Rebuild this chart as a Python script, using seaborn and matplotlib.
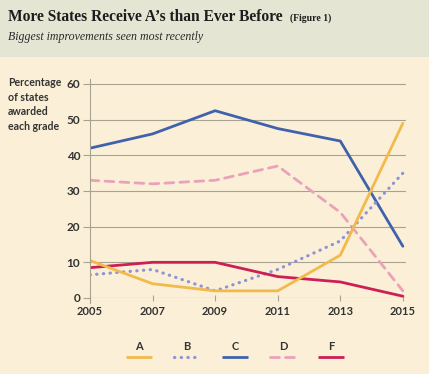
import matplotlib
matplotlib.use("Agg")
import matplotlib.pyplot as plt
import seaborn as sns
import pandas as pd
import numpy as np

years = [2005, 2007, 2009, 2011, 2013, 2015]
grade_a = [10.5, 4, 2, 2, 12, 49]
grade_b = [6.5, 8, 2, 8, 16, 35]
grade_c = [42, 46, 52.5, 47.5, 44, 14.5]
grade_d = [33, 32, 33, 37, 24, 2]
grade_f = [8.5, 10, 10, 6, 4.5, 0.5]
grades = ["A", "B", "C", "D", "F"]
y_ticks = [0, 10, 20, 30, 40, 50, 60]

colors = {"A": "#f2b94c", "B": "#8e94d2", "C": "#4062ac", "D": "#eaa2ba", "F": "#cc1f55"}
styles = {"A": "-", "B": (0, (0.1, 2.0)), "C": "-", "D": (0, (3.2, 2.2)), "F": "-"}
widths = {"A": 2.0, "B": 2.3, "C": 2.0, "D": 2.0, "F": 2.0}

df = pd.DataFrame({"year": years, "A": grade_a, "B": grade_b, "C": grade_c,
                   "D": grade_d, "F": grade_f})
long = df.melt(id_vars="year", var_name="grade", value_name="pct")

sns.set_style("white")
plt.rcParams["font.family"] = ["Lato", "DejaVu Sans"]

fig = plt.figure(figsize=(4.29, 3.74), dpi=100)
fig.patch.set_facecolor("#fbf0d7")

# header band
hdr = fig.add_axes([0, 1 - 57 / 374, 1, 57 / 374])
hdr.set_facecolor("#e5e5d4")
hdr.set_xticks([])
hdr.set_yticks([])
for s in hdr.spines.values():
    s.set_visible(False)

fig.text(8 / 429, 1 - 21 / 374, "More States Receive A\u2019s than Ever Before",
         family="Liberation Serif", weight="bold", size=11.2, color="#1c1c1c", va="baseline")
fig.text(290 / 429, 1 - 21 / 374, "(Figure 1)", family="Liberation Serif", weight="bold",
         size=7, color="#1c1c1c", va="baseline")
fig.text(8 / 429, 1 - 40 / 374, "Biggest improvements seen most recently",
         family="Liberation Serif", style="italic", size=8.6, color="#2a2a2a", va="baseline")

ax = fig.add_axes([90 / 429, 76 / 374, 316 / 429, 0.5866])
ax.patch.set_alpha(0)
order = ["C", "D", "B", "F", "A"]
for g in order:
    sub = long[long["grade"] == g]
    sns.lineplot(data=sub, x="year", y="pct", ax=ax, color=colors[g], linestyle=styles[g],
                 linewidth=widths[g], solid_capstyle="round", dash_capstyle="round",
                 legend=False)

ax.set_xlim(2005, 2015.1)
ax.set_ylim(0, 61.5)
ax.set_yticks(y_ticks)
ax.set_xticks(years)
ax.set_xlabel("")
ax.set_ylabel("")
for y in y_ticks:
    ax.axhline(y, color="#a8a290", linewidth=0.8, zorder=0)
for s in ["top", "right", "bottom"]:
    ax.spines[s].set_visible(False)
ax.spines["left"].set_color("#a8a290")
ax.spines["left"].set_linewidth(0.8)
ax.spines["left"].set_bounds(-1.5, 61.5)
ax.spines["left"].set_clip_on(False)
ax.tick_params(axis="y", length=5, width=0.8, color="#a8a290", pad=2, labelsize=8.5,
               labelcolor="#333333", left=True)
ax.tick_params(axis="x", length=5, width=0.8, color="#a8a290", pad=3, labelsize=8,
               labelcolor="#333333", bottom=True, direction="inout")
for lab in ax.get_xticklabels() + ax.get_yticklabels():
    lab.set_fontweight("bold")

fig.text(8 / 429, 1 - 77 / 374, "Percentage\nof states\nawarded\neach grade",
         size=7.6, weight="bold", color="#333333", va="top", linespacing=1.4)

# legend key
lg = fig.add_axes([115 / 429, 10 / 374, 240 / 429, 30 / 374])
lg.patch.set_alpha(0)
lg.set_xlim(0, 5)
lg.set_ylim(0, 2)
lg.axis("off")
for i, g in enumerate(grades):
    lg.plot([i + 0.22, i + 0.78], [0.45, 0.45], color=colors[g], linestyle=styles[g],
            linewidth=widths[g], dash_capstyle="round", solid_capstyle="butt")
    lg.text(i + 0.5, 1.15, g, ha="center", va="center", size=8, weight="bold",
            color="#333333")

fig.savefig("out.png", dpi=100, facecolor=fig.get_facecolor())
